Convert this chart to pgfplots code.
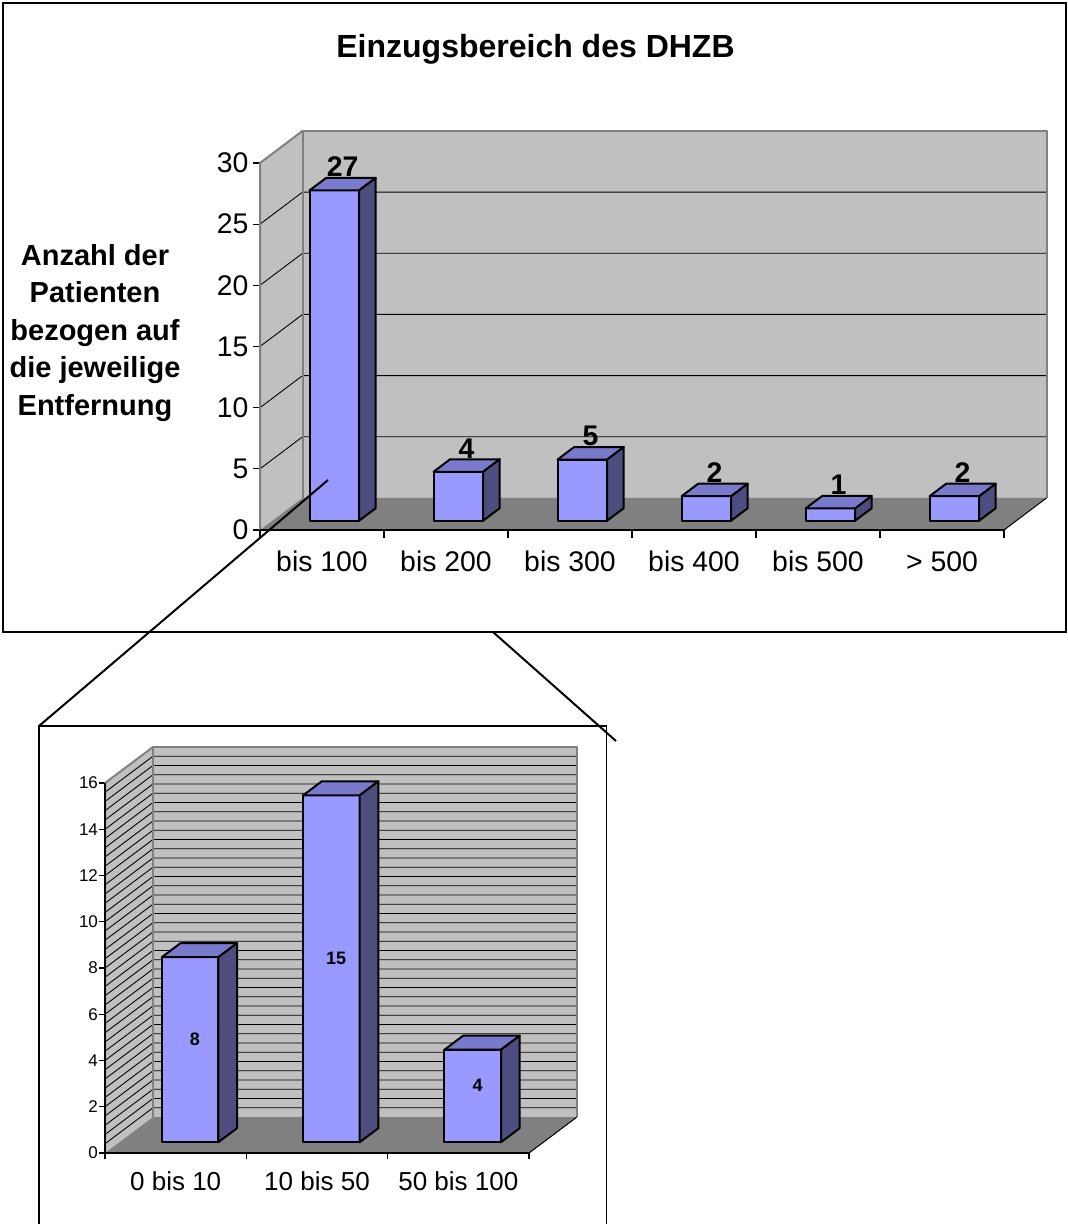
\documentclass[border=0pt]{standalone}
\usepackage{fontspec}
\setmainfont{Liberation Sans}
\usepackage{pgfplots}
\usepackage{pgfplotstable}
\pgfplotsset{compat=1.18}

\definecolor{wallgray}{HTML}{C0C0C0}
\definecolor{floorgray}{HTML}{808080}
\definecolor{edgegray}{HTML}{808080}
\definecolor{barfront}{HTML}{9999FF}
\definecolor{bartop}{HTML}{7A7ACC}
\definecolor{barside}{HTML}{4D4D80}

% patients per distance class (km)
\pgfplotstableread{
idx v
0 27
1 4
2 5
3 2
4 1
5 2
}\overview
% breakdown of the first class (up to 100 km)
\pgfplotstableread{
idx v
0 8
1 15
2 4
}\detail

\pgfplotsset{
  bface/.style={fill=barfront, draw=black, line width=1pt, line join=round},
  tface/.style={fill=bartop, draw=black, line width=1pt, line join=round},
  sface/.style={fill=barside, draw=black, line width=1pt, line join=round},
}

% oblique projection: a point at depth d (0..1) is shifted by d*(\ddx,\ddy);
% bars span depth \fa..\fb and half width \hw around their category
\newcommand\barfaces[2]{%
  \pgfmathsetmacro\xl{#1-\hw+\fa*\ddx}%
  \pgfmathsetmacro\xr{#1+\hw+\fa*\ddx}%
  \pgfmathsetmacro\xlb{#1-\hw+\fb*\ddx}%
  \pgfmathsetmacro\xrb{#1+\hw+\fb*\ddx}%
  \pgfmathsetmacro\yf{\fa*\ddy}%
  \pgfmathsetmacro\yb{\fb*\ddy}%
  \pgfmathsetmacro\ytf{#2+\fa*\ddy}%
  \pgfmathsetmacro\ytb{#2+\fb*\ddy}%
  \edef\tmp{%
    \noexpand\addplot[bface] coordinates {(\xl,\yf) (\xr,\yf) (\xr,\ytf) (\xl,\ytf)} -- cycle;
    \noexpand\addplot[tface] coordinates {(\xl,\ytf) (\xr,\ytf) (\xrb,\ytb) (\xlb,\ytb)} -- cycle;
    \noexpand\addplot[sface] coordinates {(\xr,\yf) (\xrb,\yb) (\xrb,\ytb) (\xr,\ytf)} -- cycle;
  }\tmp
}
% walls and floor of the box from x=-0.5 to x=\xend, height \ytop
\newcommand\walls{%
  \pgfmathsetmacro\wl{-0.5+\ddx}%
  \pgfmathsetmacro\wr{\xend+\ddx}%
  \pgfmathsetmacro\wt{\ytop+\ddy}%
  \edef\tmp{%
    \noexpand\addplot[fill=wallgray, draw=none] coordinates {(\wl,\ddy) (\wr,\ddy) (\wr,\wt) (\wl,\wt)} -- cycle;
    \noexpand\addplot[fill=wallgray, draw=none] coordinates {(-0.5,0) (\wl,\ddy) (\wl,\wt) (-0.5,\ytop)} -- cycle;
  }\tmp
}
\newcommand\gridline[1]{%
  \pgfmathsetmacro\wl{-0.5+\ddx}%
  \pgfmathsetmacro\wr{\xend+\ddx}%
  \pgfmathsetmacro\gy{#1+\ddy}%
  \edef\tmp{%
    \noexpand\addplot[black, line width=0.45pt] coordinates {(-0.5,#1) (\wl,\gy) (\wr,\gy)};
  }\tmp
}
\newcommand\floorandedges{%
  \pgfmathsetmacro\wl{-0.5+\ddx}%
  \pgfmathsetmacro\wr{\xend+\ddx}%
  \pgfmathsetmacro\wt{\ytop+\ddy}%
  \edef\tmp{%
    \noexpand\addplot[fill=floorgray, draw=none] coordinates {(-0.5,0) (\xend,0) (\wr,\ddy) (\wl,\ddy)} -- cycle;
    \noexpand\addplot[edgegray, line width=1pt, line join=round] coordinates {(\wl,\ddy) (\wl,\wt) (\wr,\wt) (\wr,\ddy)};
    \noexpand\addplot[edgegray, line width=1pt, line join=round] coordinates {(-0.5,0) (-0.5,\ytop) (\wl,\wt)};
    \noexpand\addplot[black, line width=0.5pt] coordinates {(\xend,0) (\wr,\ddy)};
    \noexpand\addplot[black, line width=1pt] coordinates {(-0.5,0) (\xend,0)};
  }\tmp
}

\begin{document}
\begin{tikzpicture}
\path[use as bounding box] (0pt,0pt) rectangle (534pt,-612pt);
\draw[line width=0.75pt] (1.5pt,-1.5pt) rectangle (533pt,-316pt);

% ---------- overview ----------
\def\ddx{0.343}\def\ddy{2.62}\def\fa{0.29}\def\fb{0.68}\def\hw{0.2}
\def\xend{5.5}\def\ytop{30}
\begin{axis}[
  at={(130pt,-265pt)}, anchor=south west,
  x=62pt, y=6.11667pt,
  xmin=-0.5, xmax=5.843, ymin=0, ymax=32.62,
  clip=false,
  axis line style={draw=none},
  tick pos=left, tick align=outside,
  xtick={-0.5,0.5,...,5.5},
  x tick label as interval,
  xticklabels={bis 100,bis 200,bis 300,bis 400,bis 500,{> 500}},
  ytick={0,5,...,30},
  major tick length=3.75pt,
  tick style={black, line width=0.6pt},
  tick label style={font=\fontsize{14.2}{14.2}\selectfont},
  /pgf/number format/assume math mode=true,
  xticklabel style={yshift=-3pt, text height=10.4pt, text depth=0pt},
  yticklabel style={xshift=1.5pt},
]
\walls
\pgfplotsinvokeforeach{5,10,...,25}{\gridline{#1}}
\floorandedges
\pgfplotsinvokeforeach{0,...,5}{%
  \pgfplotstablegetelem{#1}{v}\of\overview
  \barfaces{#1}{\pgfplotsretval}}
\addplot[draw=none, nodes near coords, point meta=explicit symbolic,
  nodes near coords style={anchor=south, inner sep=0pt, yshift=3.5pt,
    font=\bfseries\fontsize{14.2}{14.2}\selectfont}]
  table[x expr=\thisrow{idx}+0.485*\ddx, y expr=\thisrow{v}+0.485*\ddy, meta=v] {\overview};
\end{axis}

\node[font=\bfseries\fontsize{16}{16}\selectfont, anchor=base] at (267.75pt,-28.75pt) {Einzugsbereich des DHZB};
\node[font=\bfseries\fontsize{14.5}{18.75}\selectfont, align=center] at (47.5pt,-166.5pt)
  {Anzahl der\\Patienten\\bezogen auf\\die jeweilige\\Entfernung};

% ---------- detail of the first class ----------
\draw[line width=0.75pt] (19.5pt,-615pt) -- (19.5pt,-363pt) -- (303.35pt,-363pt) -- (303.35pt,-615pt);
\def\ddx{0.3396}\def\ddy{1.557}\def\fa{0.3}\def\fb{0.69}\def\hw{0.2}
\def\xend{2.5}\def\ytop{16}
\begin{axis}[
  at={(52.5pt,-576.5pt)}, anchor=south west,
  x=70.6667pt, y=11.5625pt,
  xmin=-0.5, xmax=2.8396, ymin=0, ymax=17.557,
  clip=false,
  axis line style={draw=none},
  tick pos=left, tick align=outside,
  xtick={-0.5,0.5,...,2.5},
  x tick label as interval,
  xticklabels={0 bis 10,10 bis 50,50 bis 100},
  ytick={0,2,...,16},
  major tick length=3pt,
  tick style={black, line width=0.6pt},
  xticklabel style={font=\fontsize{13}{13}\selectfont, yshift=-3pt},
  yticklabel style={font=\fontsize{8.5}{8.5}\selectfont, xshift=3pt},
  /pgf/number format/assume math mode=true,
]
\walls
\pgfplotsinvokeforeach{0.4,0.8,...,15.6}{\gridline{#1}}
\floorandedges
\addplot[black, line width=0.6pt] coordinates {(-0.5,0) (-0.5,16)};
\pgfplotsinvokeforeach{0,...,2}{%
  \pgfplotstablegetelem{#1}{v}\of\detail
  \barfaces{#1}{\pgfplotsretval}}
\addplot[draw=none, nodes near coords, point meta=explicit symbolic,
  nodes near coords style={anchor=center, yshift=2pt,
    font=\bfseries\fontsize{9}{9}\selectfont}]
  table[x expr=\thisrow{idx}+0.4*\ddx, y expr=\thisrow{v}/2+0.485*\ddy, meta=v] {\detail};
\end{axis}

% zoom lines linking the first bar with its breakdown
\draw[line width=1pt] (19.5pt,-363pt) -- (164pt,-240pt);
\draw[line width=1pt] (246.5pt,-316pt) -- (308pt,-370.5pt);
\end{tikzpicture}
\end{document}
